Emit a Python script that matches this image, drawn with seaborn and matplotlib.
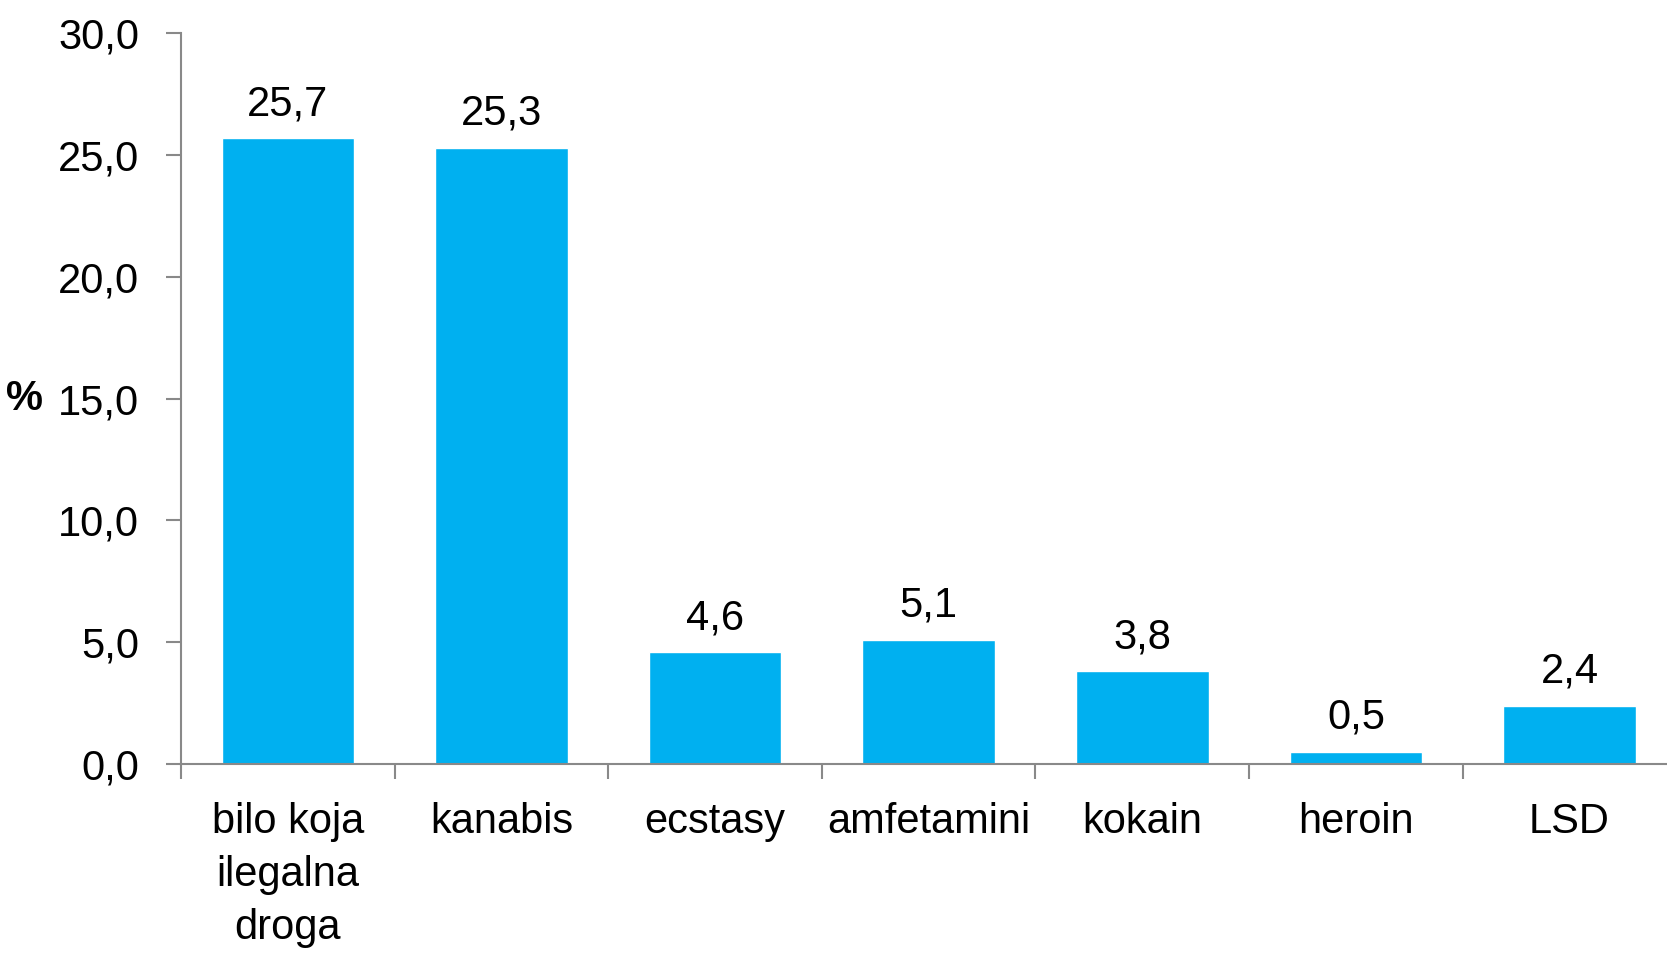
import matplotlib
matplotlib.use("Agg")
import matplotlib.pyplot as plt
from matplotlib import font_manager
import seaborn as sns
import pandas as pd

categories = ["bilo koja\nilegalna\ndroga", "kanabis", "ecstasy", "amfetamini", "kokain", "heroin", "LSD"]
values = [25.7, 25.3, 4.6, 5.1, 3.8, 0.5, 2.4]
yticks = [0.0, 5.0, 10.0, 15.0, 20.0, 25.0, 30.0]

sns.set_theme(style="white")
names = {f.name for f in font_manager.fontManager.ttflist}
fam = "Liberation Sans Narrow" if "Liberation Sans Narrow" in names else "Liberation Sans"
plt.rcParams["font.family"] = [fam, "DejaVu Sans"]

df = pd.DataFrame({"cat": categories, "val": values})

fig = plt.figure(figsize=(16.67, 9.58), dpi=100)
ax = fig.add_axes([0.1086, 0.2025, 0.897, 0.7627])
sns.barplot(data=df, x="cat", y="val", color="#00B0F0", saturation=1, width=0.62, ax=ax)

ax.set_ylim(0, 30)
ax.set_xlim(-0.5, len(categories) - 0.5)
ax.set_yticks(yticks)
ax.set_yticklabels([f"{t:.1f}".replace(".", ",") for t in yticks])
ax.set_xlabel("")
ax.set_ylabel("")
fs = 30
ax.tick_params(axis="y", labelsize=fs, length=11, width=1.5, color="#898989", pad=19, left=True,
               labelcolor="black")
ax.tick_params(axis="x", labelsize=fs, length=0, pad=27, labelcolor="black")
for lab in ax.get_xticklabels():
    lab.set_linespacing(1.42)
# category boundary ticks
ax.set_xticks([i - 0.5 for i in range(len(categories))], minor=True)
ax.tick_params(axis="x", which="minor", length=11, width=1.5, color="#898989", bottom=True)
for s in ["top", "right"]:
    ax.spines[s].set_visible(False)
for s in ["left", "bottom"]:
    ax.spines[s].set_color("#898989")
    ax.spines[s].set_linewidth(1.5)

for i, v in enumerate(values):
    ax.annotate(f"{v:.1f}".replace(".", ","), (i, v), xytext=(0, 10), textcoords="offset points",
                ha="center", va="bottom", fontsize=fs, color="black")

ax.text(-0.117, 15, "%", transform=ax.get_yaxis_transform(), fontsize=fs, fontweight="bold",
        ha="left", va="center", color="black")

fig.savefig("out.png", dpi=100)
